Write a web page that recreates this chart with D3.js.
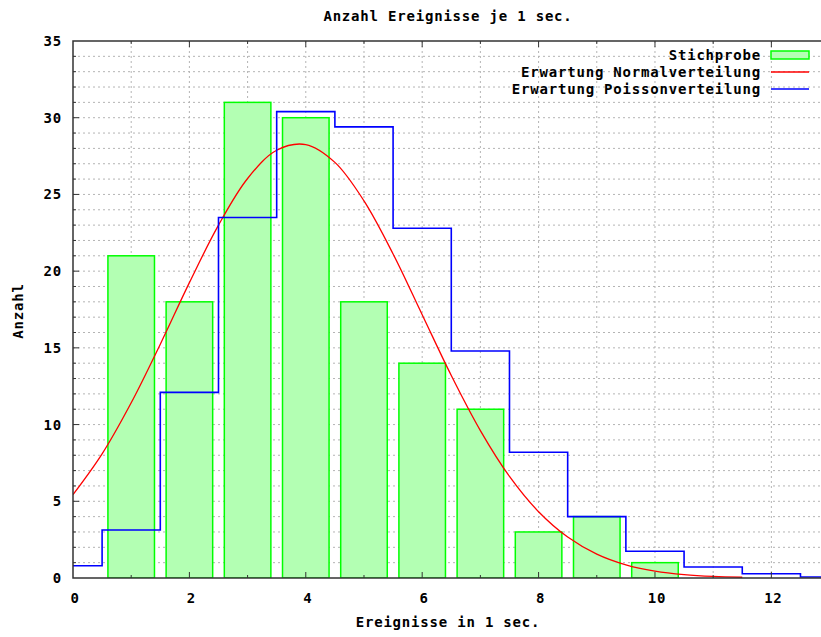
<!DOCTYPE html>
<head>
  <meta charset="utf-8">
  <script src="https://d3js.org/d3.v7.min.js"></script>
<style>
body { margin:0; background:#fff; }
text {
  font-family: "DejaVu Sans Mono", "Liberation Mono", monospace;
  font-weight: bold;
  font-size: 14px;
  letter-spacing: 0.8px;
  fill: #000;
}
.grid line { stroke: #b4b4b4; stroke-width: 1px; stroke-dasharray: 2,3; }
.bar { fill: #b3ffb3; stroke: #00ff00; stroke-width: 1.5px; }
.line { fill: none; stroke-width: 1.3px; }
.line--normal { stroke: #ff0000; }
.line--poisson { stroke: #0000ff; stroke-width: 1.6px; }
.border { fill: none; stroke: #333; stroke-width: 1.5px; }
.tick line { stroke: #333; stroke-width: 1px; }
</style>
</head>

<body>
<script>
// sample counts per number of events
var events = [1, 2, 3, 4, 5, 6, 7, 8, 9, 10];
var counts = [21, 18, 31, 30, 18, 14, 11, 3, 4, 1];

// expected counts, poisson
var poissonK = [0, 1, 2, 3, 4, 5, 6, 7, 8, 9, 10, 11, 12, 13];
var poissonV = [0.8, 3.13, 12.1, 23.5, 30.4, 29.4, 22.8, 14.8, 8.2, 4.0, 1.74, 0.72, 0.28, 0.07];

// expected counts, normal curve (read every 0.5)
var normalX = [0, 0.5, 1, 1.5, 2, 2.5, 3, 3.5, 4, 4.5, 5, 5.5, 6, 6.5, 7, 7.5, 8, 8.5, 9, 9.5, 10, 10.5, 11, 11.5];
var normalV = [5.43, 8.09, 11.42, 15.24, 19.25, 23.0, 26.04, 27.88, 28.25, 27.09, 24.58, 21.12, 17.16, 13.2, 9.61, 6.62, 4.32, 2.67, 1.56, 0.86, 0.45, 0.22, 0.1, 0.05];

var xTicks = [0, 2, 4, 6, 8, 10, 12];
var yTicks = [0, 5, 10, 15, 20, 25, 30, 35];

var legendNames = ["Stichprobe", "Erwartung Normalverteilung", "Erwartung Poissonverteilung"];

var margin = {top: 41, right: 0, bottom: 59, left: 73},
    W = 821, H = 637,
    width = 822 - margin.left,
    height = H - margin.top - margin.bottom;

var x = d3.scaleLinear().domain([0, 12.87]).range([0, width]);
var y = d3.scaleLinear().domain([0, 35]).range([height, 0]);

var svg = d3.select("body").append("svg")
    .attr("width", W)
    .attr("height", H);

var g = svg.append("g")
    .attr("transform", "translate(" + margin.left + "," + margin.top + ")");

g.append("clipPath").attr("id", "clip")
  .append("rect").attr("width", width).attr("height", height);

// grid, every unit
var grid = g.append("g").attr("class", "grid");
grid.selectAll(".gx").data(d3.range(1, 13))
  .enter().append("line")
    .attr("x1", d => x(d)).attr("x2", d => x(d))
    .attr("y1", 0).attr("y2", height);
grid.selectAll(".gy").data(d3.range(1, 35))
  .enter().append("line")
    .attr("x1", 0).attr("x2", width)
    .attr("y1", d => y(d)).attr("y2", d => y(d));

var plot = g.append("g").attr("clip-path", "url(#clip)");

// bars
plot.selectAll(".bar").data(events)
  .enter().append("rect")
    .attr("class", "bar")
    .attr("x", d => x(d - 0.4))
    .attr("width", x(0.8) - x(0))
    .attr("y", (d, i) => y(counts[i]))
    .attr("height", (d, i) => y(0) - y(counts[i]));

// normal curve
var normalLine = d3.line()
    .x((d, i) => x(normalX[i]))
    .y(d => y(d))
    .curve(d3.curveCatmullRom);
plot.append("path")
    .datum(normalV)
    .attr("class", "line line--normal")
    .attr("d", normalLine);

// poisson steps
var poissonLine = d3.line()
    .x((d, i) => x(poissonK[i]))
    .y(d => y(d))
    .curve(d3.curveStep);
plot.append("path")
    .datum(poissonV)
    .attr("class", "line line--poisson")
    .attr("d", poissonLine);

// border (left, bottom, top; right side is off the picture)
g.append("path")
    .attr("class", "border")
    .attr("d", "M" + width + ",0H0V" + height + "H" + width);

// ticks
var ticks = g.append("g").attr("class", "tick");
d3.range(1, 13).forEach(d => {
  var len = d % 2 === 0 ? 6 : 3;
  ticks.append("line").attr("x1", x(d)).attr("x2", x(d)).attr("y1", height).attr("y2", height - len);
  ticks.append("line").attr("x1", x(d)).attr("x2", x(d)).attr("y1", 0).attr("y2", len);
});
d3.range(1, 35).forEach(d => {
  var len = d % 5 === 0 ? 6 : 3;
  ticks.append("line").attr("x1", 0).attr("x2", len).attr("y1", y(d)).attr("y2", y(d));
});

// tick labels
g.selectAll(".xl").data(xTicks)
  .enter().append("text")
    .attr("x", d => x(d) + 2)
    .attr("y", height + 25)
    .attr("text-anchor", "middle")
    .text(d => d);
g.selectAll(".yl").data(yTicks)
  .enter().append("text")
    .attr("x", -11)
    .attr("y", d => y(d) + 5)
    .attr("text-anchor", "end")
    .text(d => d);

// titles
svg.append("text")
    .attr("x", 448).attr("y", 21)
    .attr("text-anchor", "middle")
    .text("Anzahl Ereignisse je 1 sec.");
svg.append("text")
    .attr("x", 448).attr("y", 627)
    .attr("text-anchor", "middle")
    .text("Ereignisse in 1 sec.");
svg.append("text")
    .attr("transform", "translate(23,311) rotate(-90)")
    .attr("text-anchor", "middle")
    .text("Anzahl");

// legend
var legend = svg.append("g");
legendNames.forEach((name, i) => {
  var ly = 55 + i * 17;
  legend.append("text")
      .attr("x", 761).attr("y", ly + 5)
      .attr("text-anchor", "end")
      .text(name);
  if (i === 0) {
    legend.append("rect").attr("class", "bar")
        .attr("x", 771).attr("y", ly - 4).attr("width", 38).attr("height", 8);
  } else {
    legend.append("line")
        .attr("class", "line " + (i === 1 ? "line--normal" : "line--poisson"))
        .attr("x1", 771).attr("x2", 809).attr("y1", ly).attr("y2", ly);
  }
});
</script>
</body>
